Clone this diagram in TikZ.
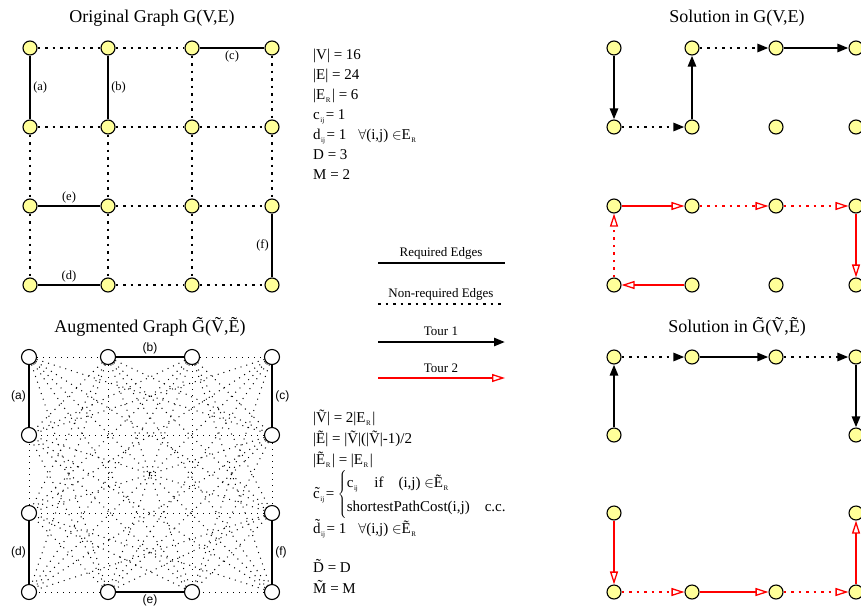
\documentclass[tikz,border=0pt]{standalone}
\usepackage{fontspec}
\setmainfont{Liberation Serif}
\newfontfamily\helvfont{Liberation Sans}
\usetikzlibrary{arrows.meta, backgrounds}
\definecolor{nodeyellow}{RGB}{255,255,153}
\definecolor{tourred}{RGB}{255,0,0}
\newcommand{\lowsub}[1]{\kern0.5pt\raisebox{-0.55ex}{\fontsize{7}{7}\selectfont #1}\kern1.5pt}
\tikzset{
    vtx/.style={circle, draw=black, line width=1.1pt, fill=nodeyellow, minimum size=14pt, inner sep=0pt},
    avtx/.style={vtx, fill=white, minimum size=15pt},
    reqedge/.style={line width=2.5pt},
    dotedge/.style={line width=2.5pt, dash pattern=on 2.5pt off 5pt},
    thindot/.style={line width=1pt, dash pattern=on 1pt off 5pt},
    tourone/.style={line width=2.5pt, -{Triangle[length=11pt, width=8pt]}},
    touronedot/.style={tourone, dash pattern=on 2.5pt off 5pt},
    tourtwo/.style={line width=2.5pt, tourred, -{Triangle[open, length=13pt, width=8pt, line width=1.3pt]}},
    tourtwodot/.style={tourtwo, dash pattern=on 2.5pt off 5pt},
    title/.style={font=\fontsize{18}{20}\selectfont},
    origlabel/.style={font=\fontsize{12.5}{14}\selectfont, inner sep=2pt},
    auglabel/.style={font=\helvfont\fontsize{12}{14}\selectfont, inner sep=2pt},
    eqtext/.style={anchor=base west, font=\fontsize{15}{17}\selectfont, inner sep=0pt},
    legtext/.style={font=\fontsize{13}{15}\selectfont},
}

\begin{document}
\begin{tikzpicture}[x=1pt, y=-1pt]
\useasboundingbox (0,0) rectangle (861,608);

% Original graph
\node[title] (orig-title) at (152,18) {Original Graph G(V,E)};
\foreach \r/\y in {1/48, 2/127, 3/206, 4/285}
    \foreach \c/\x in {1/30, 2/108, 3/192, 4/272}
        \node[vtx] (o\r\c) at (\x,\y) {};

\foreach \first/\second in {o11/o12, o12/o13, o21/o22, o22/o23, o23/o24, o32/o33, o33/o34, o42/o43, o43/o44,
        o21/o31, o31/o41, o22/o32, o32/o42, o13/o23, o23/o33, o33/o43, o14/o24, o24/o34}
    \draw[dotedge] (\first) -- (\second);

\draw[reqedge] (o11) -- node[origlabel, right] {(a)} (o21);
\draw[reqedge] (o12) -- node[origlabel, right] {(b)} (o22);
\draw[reqedge] (o13) -- node[origlabel, below] {(c)} (o14);
\draw[reqedge] (o41) -- node[origlabel, above] {(d)} (o42);
\draw[reqedge] (o31) -- node[origlabel, above] {(e)} (o32);
\draw[reqedge] (o34) -- node[origlabel, left] {(f)} (o44);

% Original graph data
\node[eqtext] (eq-v) at (313,59) {|V| = 16};
\node[eqtext] (eq-e) at (313,79) {|E| = 24};
\node[eqtext] (eq-er) at (313,99) {|E\lowsub{R}| = 6};
\node[eqtext] (eq-c) at (313,119) {c\lowsub{ij} = 1};
\node[eqtext] (eq-d) at (313,139) {d\lowsub{ij} = 1\hspace{12pt}$\forall$(i,j) $\in$E\lowsub{R}};
\node[eqtext] (eq-dd) at (313,159) {D = 3};
\node[eqtext] (eq-m) at (313,179) {M = 2};

% Legend
\coordinate (req-a) at (378,263);
\coordinate (req-b) at (505,263);
\coordinate (non-a) at (378,304);
\coordinate (non-b) at (505,304);
\coordinate (one-a) at (378,342);
\coordinate (one-b) at (505,342);
\coordinate (two-a) at (378,378);
\coordinate (two-b) at (505,378);
\node[legtext] (req-text) at (441,253) {Required Edges};
\node[legtext] (non-text) at (441,294) {Non-required Edges};
\node[legtext] (one-text) at (441,331) {Tour 1};
\node[legtext] (two-text) at (441,368) {Tour 2};
\draw[reqedge] (req-a) -- (req-b);
\draw[dotedge] (non-a) -- (non-b);
\draw[tourone] (one-a) -- (one-b);
\draw[tourtwo] (two-a) -- (two-b);

% Augmented graph
\node[title] (aug-title) at (150,327) {Augmented Graph \~{G}(\~{V},\~{E})};
\foreach \n/\x/\y in {1/29/357, 2/108/357, 3/192/357, 4/272/357, 5/272/435, 6/272/513,
        7/272/592, 8/192/592, 9/108/592, 10/29/592, 11/29/513, 12/29/435}
    \node[avtx] (g\n) at (\x,\y) {};

% non-required edges of the complete graph (skip the ones hidden along a side)
\begin{scope}[on background layer]
\foreach \i in {1,...,11} {
    \pgfmathtruncatemacro{\k}{\i+1}
    \foreach \j in {\k,...,12} {
        \pgfmathtruncatemacro{\hide}{(\i<=4 && \j<=4 && \j-\i>1) || (\i>=4 && \j<=7 && \j-\i>1)
            || (\i>=7 && \j<=10 && \j-\i>1) || (\i==1 && \j>=10 && \j<=11) || (\i==10 && \j==12)}
        \ifnum\hide=0
            \draw[thindot] (g\i) -- (g\j);
        \fi
    }
}
\end{scope}

\draw[reqedge] (g1) -- node[auglabel, left] {(a)} (g12);
\draw[reqedge] (g2) -- node[auglabel, above] {(b)} (g3);
\draw[reqedge] (g4) -- node[auglabel, right] {(c)} (g5);
\draw[reqedge] (g11) -- node[auglabel, left] {(d)} (g10);
\draw[reqedge] (g9) -- node[auglabel, below] {(e)} (g8);
\draw[reqedge] (g6) -- node[auglabel, right] {(f)} (g7);

% Augmented graph data
\node[eqtext] (aeq-v) at (313,422) {|\~{V}| = 2|E\lowsub{R}|};
\node[eqtext] (aeq-e) at (313,443) {|\~{E}| = |\~{V}|(|\~{V}|-1)/2};
\node[eqtext] (aeq-er) at (313,464) {|\~{E}\lowsub{R}| = |E\lowsub{R}|};
\node[eqtext] (aeq-c) at (313,498) {\~{c}\lowsub{ij} =
    $\left\{\renewcommand{\arraystretch}{1.45}\begin{tabular}{@{}l@{}}c\lowsub{ij}\quad if\quad (i,j) $\in$\~{E}\lowsub{R}\\
    shortestPathCost(i,j)\quad c.c.\end{tabular}\right.$};
\node[eqtext] (aeq-d) at (313,533) {\~{d}\lowsub{ij} = 1\hspace{12pt}$\forall$(i,j) $\in$\~{E}\lowsub{R}};
\node[eqtext] (aeq-dd) at (313,572) {\~{D} = D};
\node[eqtext] (aeq-m) at (313,593) {\~{M} = M};

% Solution in G(V,E)
\node[title] (sol-title) at (737,18) {Solution in G(V,E)};
\foreach \r/\y in {1/48, 2/127, 3/206, 4/285}
    \foreach \c/\x in {1/614, 2/692, 3/776, 4/856}
        \node[vtx] (s\r\c) at (\x,\y) {};

\draw[tourone] (s11) -- (s21);
\draw[touronedot] (s21) -- (s22);
\draw[tourone] (s22) -- (s12);
\draw[touronedot] (s12) -- (s13);
\draw[tourone] (s13) -- (s14);

\draw[tourtwo] (s31) -- (s32);
\draw[tourtwodot] (s32) -- (s33);
\draw[tourtwodot] (s33) -- (s34);
\draw[tourtwo] (s34) -- (s44);
\draw[tourtwo] (s42) -- (s41);
\draw[tourtwodot] (s41) -- (s31);

% Solution in augmented graph
\node[title] (asol-title) at (737,327) {Solution in \~{G}(\~{V},\~{E})};
\foreach \n/\x/\y in {1/614/357, 2/692/357, 3/776/357, 4/856/357, 5/856/435, 6/856/513,
        7/856/592, 8/776/592, 9/692/592, 10/614/592, 11/614/513, 12/614/435}
    \node[vtx] (t\n) at (\x,\y) {};

\draw[tourone] (t12) -- (t1);
\draw[touronedot] (t1) -- (t2);
\draw[tourone] (t2) -- (t3);
\draw[touronedot] (t3) -- (t4);
\draw[tourone] (t4) -- (t5);

\draw[tourtwo] (t11) -- (t10);
\draw[tourtwodot] (t10) -- (t9);
\draw[tourtwo] (t9) -- (t8);
\draw[tourtwodot] (t8) -- (t7);
\draw[tourtwo] (t7) -- (t6);

\end{tikzpicture}
\end{document}
